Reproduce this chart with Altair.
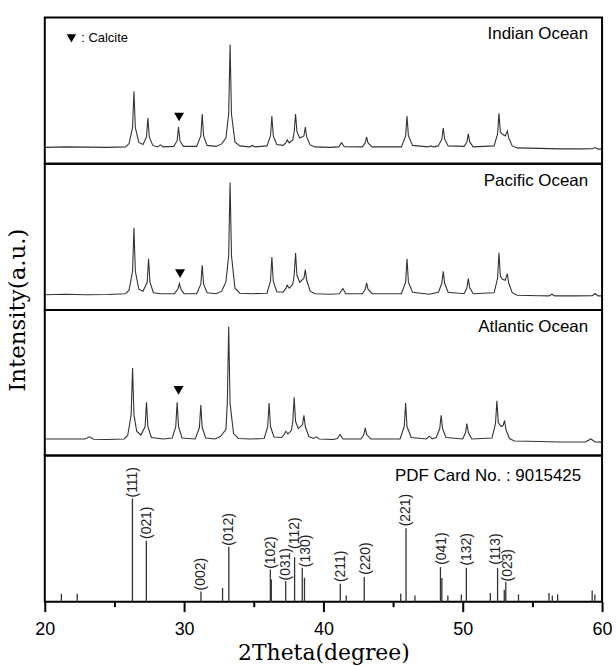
import altair as alt
import pandas as pd

# ---------------- data ----------------
panel_names = ["Indian Ocean", "Pacific Ocean", "Atlantic Ocean", "PDF Card No. : 9015425"]

indian = [(20.0, 16.5), (21.5, 17.0), (23.0, 16.8), (24.5, 16.5), (25.8, 17.0), (26.05, 20.4), (26.3, 36.3),
          (26.4, 73.0), (26.5, 36.3), (26.75, 21.5), (27.05, 19.5), (27.3, 27.0), (27.4, 46.0), (27.5, 27.0),
          (27.75, 18.5), (28.1, 17.0), (28.3, 19.0), (28.5, 17.0), (29.25, 17.5), (29.5, 23.0), (29.6, 37.0),
          (29.7, 23.0), (29.95, 17.5), (30.9, 17.5), (31.2, 28.0), (31.3, 50.0), (31.4, 28.0), (31.65, 18.5),
          (32.3, 17.5), (32.7, 20.0), (33.0, 26.0), (33.2, 50.0), (33.3, 120.0), (33.4, 50.0), (33.65, 22.0),
          (34.0, 18.0), (34.7, 17.0), (34.9, 18.5), (35.1, 17.0), (35.95, 18.0), (36.2, 28.0), (36.3, 48.0),
          (36.4, 28.0), (36.65, 19.5), (37.1, 18.5), (37.3, 21.0), (37.4, 24.0), (37.55, 21.0), (37.8, 24.0),
          (37.9, 32.0), (38.0, 50.0), (38.1, 32.0), (38.3, 26.0), (38.6, 28.0), (38.7, 37.0), (38.8, 27.0),
          (39.05, 19.0), (39.4, 17.0), (40.5, 16.5), (41.1, 17.0), (41.3, 21.3), (41.5, 17.2), (42.8, 17.0),
          (43.0, 21.0), (43.1, 27.0), (43.2, 21.0), (43.5, 17.0), (45.6, 17.0), (45.9, 28.0), (46.0, 48.0),
          (46.1, 28.0), (46.4, 18.5), (47.5, 17.0), (47.7, 18.0), (47.9, 17.0), (48.25, 18.0), (48.5, 25.0),
          (48.6, 36.0), (48.7, 25.0), (48.95, 18.0), (50.1, 17.5), (50.3, 22.0), (50.4, 30.0), (50.5, 22.0),
          (50.75, 17.0), (52.25, 18.0), (52.5, 30.0), (52.6, 50.7), (52.7, 32.0), (52.85, 29.7), (53.05, 28.0),
          (53.2, 33.0), (53.3, 26.0), (53.55, 18.0), (53.9, 16.0), (55.5, 15.5), (57.0, 15.0), (58.5, 15.0),
          (59.3, 15.2), (59.5, 16.3), (59.7, 14.8), (60.0, 14.8)]

pacific = [(20.0, 15.5), (21.5, 16.0), (23.0, 15.5), (24.5, 15.7), (25.8, 16.5), (26.05, 20.0), (26.3, 39.0),
           (26.4, 82.7), (26.5, 39.0), (26.75, 21.0), (27.05, 19.0), (27.35, 28.0), (27.45, 51.7), (27.55, 28.0),
           (27.8, 17.5), (28.3, 16.5), (29.3, 16.5), (29.55, 21.0), (29.66, 26.7), (29.77, 21.0), (30.0, 16.5),
           (30.9, 16.5), (31.2, 26.0), (31.3, 45.0), (31.4, 26.0), (31.65, 17.5), (32.3, 16.5), (32.7, 19.0),
           (33.0, 28.3), (33.2, 55.0), (33.3, 128.3), (33.4, 55.0), (33.65, 22.0), (34.0, 17.0), (34.9, 16.5),
           (35.95, 17.0), (36.2, 29.0), (36.3, 53.3), (36.4, 29.0), (36.65, 18.5), (37.1, 18.0), (37.3, 21.5),
           (37.4, 25.0), (37.55, 22.0), (37.8, 26.0), (37.9, 35.0), (38.0, 57.3), (38.1, 35.0), (38.3, 28.0),
           (38.6, 32.0), (38.7, 40.7), (38.8, 30.0), (39.05, 19.0), (39.4, 16.5), (40.5, 16.0), (41.15, 16.5),
           (41.4, 21.7), (41.6, 16.5), (42.8, 16.5), (43.0, 21.0), (43.1, 27.3), (43.2, 21.0), (43.5, 16.5),
           (45.6, 16.5), (45.9, 28.0), (46.0, 51.7), (46.1, 28.0), (46.4, 18.0), (47.6, 16.0), (48.25, 18.0),
           (48.5, 27.0), (48.6, 39.0), (48.7, 27.0), (48.95, 18.0), (50.1, 16.5), (50.3, 22.5), (50.4, 31.7),
           (50.5, 22.5), (50.75, 16.5), (52.25, 17.5), (52.5, 32.0), (52.6, 57.7), (52.7, 34.0), (52.85, 31.0),
           (53.05, 30.0), (53.2, 36.7), (53.3, 27.0), (53.55, 17.5), (53.9, 15.0), (55.5, 14.5), (56.2, 14.3),
           (56.4, 16.0), (56.6, 14.3), (58.0, 14.3), (59.3, 14.5), (59.5, 16.7), (59.7, 14.3), (60.0, 14.3)]

atlantic = [(20.0, 16.5), (21.5, 16.5), (22.9, 16.5), (23.2, 18.7), (23.5, 16.3), (24.5, 16.0), (25.7, 16.5),
            (25.95, 20.0), (26.2, 41.0), (26.3, 87.7), (26.4, 41.0), (26.6, 24.0), (26.7, 23.0), (26.9, 20.5),
            (27.2, 29.0), (27.3, 53.3), (27.4, 29.0), (27.65, 18.0), (28.5, 16.5), (29.15, 17.5), (29.4, 29.0),
            (29.5, 53.3), (29.6, 29.0), (29.85, 17.5), (30.8, 16.5), (31.1, 28.0), (31.2, 50.7), (31.3, 28.0),
            (31.55, 17.5), (32.2, 16.5), (32.6, 19.0), (33.0, 26.0), (33.1, 52.0), (33.2, 129.3), (33.3, 52.0),
            (33.55, 22.0), (33.9, 17.0), (34.8, 16.5), (35.75, 17.0), (36.0, 29.0), (36.1, 52.7), (36.2, 29.0),
            (36.45, 18.5), (37.0, 18.0), (37.2, 21.5), (37.3, 24.3), (37.45, 21.5), (37.7, 25.0), (37.8, 34.0),
            (37.9, 58.3), (38.0, 34.0), (38.2, 27.0), (38.5, 31.0), (38.6, 40.3), (38.7, 29.0), (38.95, 19.0),
            (39.3, 17.0), (39.5, 18.7), (39.7, 16.5), (40.7, 16.0), (41.0, 17.0), (41.2, 21.0), (41.4, 16.5),
            (42.7, 16.5), (42.9, 21.0), (43.0, 27.7), (43.1, 21.0), (43.4, 16.5), (45.5, 16.5), (45.8, 29.0),
            (45.9, 52.7), (46.0, 29.0), (46.3, 18.0), (47.4, 16.5), (47.6, 19.3), (47.8, 16.5), (48.1, 18.0),
            (48.35, 27.0), (48.45, 40.3), (48.55, 27.0), (48.8, 18.0), (50.0, 16.5), (50.2, 23.0), (50.3, 32.0),
            (50.4, 23.0), (50.65, 16.5), (52.1, 17.5), (52.35, 32.0), (52.45, 55.0), (52.55, 33.0), (52.75, 29.0),
            (52.9, 30.0), (53.0, 35.3), (53.1, 26.0), (53.35, 17.0), (53.7, 14.5), (55.5, 14.0), (57.0, 13.5),
            (58.8, 13.5), (59.2, 16.5), (59.5, 13.5), (60.0, 13.3)]

calcite_pos = [29.64, 29.71, 29.6]
calcite_int = [47.0, 36.7, 65.3]

pdf_pos = [21.19, 22.33, 26.29, 27.29, 31.21, 32.76, 33.21, 36.19, 36.26, 37.29, 37.93, 38.48, 38.64,
           41.21, 41.64, 42.93, 45.55, 45.93, 46.57, 48.40, 48.50, 48.93, 49.90, 50.26, 51.98, 52.50,
           52.98, 53.09, 54.00, 56.19, 56.43, 56.81, 59.29, 59.48]
pdf_int = [8.0, 8.0, 103.7, 61.3, 10.3, 13.7, 55.3, 32.3, 22.3, 20.7, 44.7, 34.0, 24.0,
           18.0, 6.3, 24.7, 8.0, 73.7, 6.3, 34.7, 23.7, 6.3, 7.3, 34.0, 8.7, 34.0,
           12.0, 19.7, 7.3, 8.7, 6.3, 7.3, 11.3, 7.3]

hkl_labels = ["(111)", "(021)", "(002)", "(012)", "(102)", "(031)", "(112)", "(130)",
              "(211)", "(220)", "(221)", "(041)", "(132)", "(113)", "(023)"]
hkl_pos = [26.33, 27.33, 31.21, 33.21, 36.26, 37.33, 37.95, 38.76,
           41.26, 43.05, 45.95, 48.48, 50.31, 52.38, 53.24]
hkl_int = [104.7, 63.0, 11.3, 56.3, 33.0, 21.3, 53.0, 34.7,
           19.7, 27.0, 75.7, 37.0, 36.3, 37.0, 20.3]

legend_pos = [21.91, 22.62]
legend_int = [126.0, 126.0]

# ---------------- layout / style ----------------
W = 560
HEIGHTS = [147, 147, 146, 147]
XS = alt.Scale(domain=[20, 60], nice=False, zero=False)
LINE = "#333333"
SANS = "Liberation Sans"
SERIF = "DejaVu Serif"


def yscale(h):
    return alt.Scale(domain=[0, h], nice=False, zero=False)


def title_layer(text, right, top):
    return alt.Chart(pd.DataFrame({"t": [text]})).mark_text(
        align="right", baseline="middle", font=SANS, fontSize=17, color="black"
    ).encode(text="t:N", x=alt.value(W - right), y=alt.value(top))


def pattern_panel(i, pairs):
    h = HEIGHTS[i]
    ys = yscale(h)
    df = pd.DataFrame(pairs, columns=["two_theta", "intensity"])
    line = alt.Chart(df).mark_line(color=LINE, strokeWidth=1.1, clip=True).encode(
        x=alt.X("two_theta:Q", scale=XS, axis=None),
        y=alt.Y("intensity:Q", scale=ys, axis=None),
    )
    mk = pd.DataFrame({"two_theta": [calcite_pos[i]], "intensity": [calcite_int[i]]})
    marker = alt.Chart(mk).mark_point(
        shape="triangle-down", filled=True, color="black", size=100, opacity=1
    ).encode(
        x=alt.X("two_theta:Q", scale=XS, axis=None),
        y=alt.Y("intensity:Q", scale=ys, axis=None),
    )
    layers = [line, marker, title_layer(panel_names[i], 14, 17)]
    if i == 0:
        lg = pd.DataFrame({"two_theta": [legend_pos[0]], "intensity": [legend_int[0]]})
        lgt = pd.DataFrame({"two_theta": [legend_pos[1]], "intensity": [legend_int[1]], "t": [": Calcite"]})
        layers.append(alt.Chart(lg).mark_point(
            shape="triangle-down", filled=True, color="black", size=90, opacity=1
        ).encode(x=alt.X("two_theta:Q", scale=XS, axis=None), y=alt.Y("intensity:Q", scale=ys, axis=None)))
        layers.append(alt.Chart(lgt).mark_text(
            align="left", baseline="middle", font=SANS, fontSize=13, color="black"
        ).encode(x=alt.X("two_theta:Q", scale=XS, axis=None), y=alt.Y("intensity:Q", scale=ys, axis=None),
                 text="t:N"))
    if i == 1:
        layers.append(alt.Chart(pd.DataFrame({"t": ["Intensity(a.u.)"]})).mark_text(
            angle=270, align="center", baseline="middle", font=SERIF, fontSize=23, color="black"
        ).encode(text="t:N", x=alt.value(-27), y=alt.value(h)))
    return alt.layer(*layers).properties(width=W, height=h)


p1 = pattern_panel(0, indian)
p2 = pattern_panel(1, pacific)
p3 = pattern_panel(2, atlantic)

# ---- reference pattern panel ----
ys4 = yscale(HEIGHTS[3])
sticks_df = pd.DataFrame({"two_theta": pdf_pos, "intensity": pdf_int})
labels_df = pd.DataFrame({"two_theta": hkl_pos, "intensity": hkl_int, "label": hkl_labels})

x_axis = alt.Axis(
    values=[20, 25, 30, 35, 40, 45, 50, 55, 60],
    labelExpr="datum.value % 10 === 0 ? datum.label : ''",
    tickSize={"condition": {"test": "datum.value % 10 === 0", "value": 10}, "value": 5},
    tickWidth=2, tickColor="black", domain=False, grid=False,
    labelFont=SANS, labelFontSize=18, labelColor="black", labelPadding=9, labelFlush=False,
    title="2Theta(degree)", titleFont=SERIF, titleFontSize=22, titleFontWeight="normal",
    titleColor="black", titlePadding=4,
)

sticks = alt.Chart(sticks_df).mark_rule(color=LINE, strokeWidth=1.3).encode(
    x=alt.X("two_theta:Q", scale=XS, axis=x_axis),
    y=alt.Y("intensity:Q", scale=ys4, axis=None),
    y2=alt.datum(0),
)
labels = alt.Chart(labels_df).mark_text(
    angle=270, align="left", baseline="middle", font=SANS, fontSize=14, color="#222222"
).encode(
    x=alt.X("two_theta:Q", scale=XS),
    y=alt.Y("intensity:Q", scale=ys4, axis=None),
    text="label:N",
)
p4 = alt.layer(sticks, labels, title_layer(panel_names[3], 21, 21)).properties(width=W, height=HEIGHTS[3])

chart = alt.vconcat(p1, p2, p3, p4, spacing=0, bounds="flush").resolve_scale(
    x="independent", y="independent"
).properties(
    padding={"left": 6, "top": 15, "right": 2, "bottom": 0},
    background="white",
).configure_view(stroke="black", strokeWidth=2)

chart.save("out.html", embed_options={"renderer": "svg", "actions": False})
